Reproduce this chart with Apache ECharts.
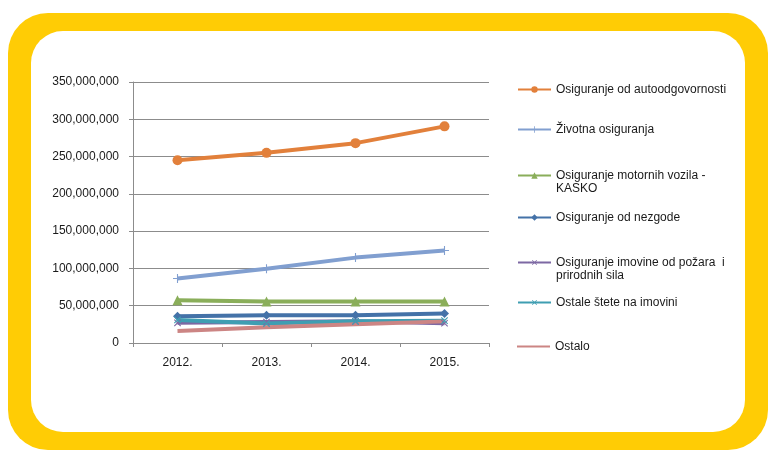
<!DOCTYPE html>
<html>
<head>
<meta charset="utf-8">
<script src="https://cdn.jsdelivr.net/npm/echarts@6/dist/echarts.min.js"></script>
<style>
html,body{margin:0;padding:0;background:#fff;}
#chart{width:783px;height:468px;}
</style>
</head>
<body>
<div id="chart"></div>
<script>
var categories = ['2012.', '2013.', '2014.', '2015.'];
var autoodgovornost = [245000000, 255000000, 268000000, 290500000];
var zivotna = [86500000, 99500000, 114500000, 124000000];
var kasko = [57200000, 55500000, 55500000, 55500000];
var nezgoda = [35800000, 37100000, 37200000, 39400000];
var pozar = [27000000, 28000000, 29000000, 26500000];
var ostaleStete = [31000000, 26000000, 29000000, 30000000];
var ostalo = [16000000, 21000000, 25000000, 29000000];
var yTicks = { min: 0, max: 350000000, interval: 50000000 };

var names = [
  'Osiguranje od autoodgovornosti',
  'Životna osiguranja',
  'Osiguranje motornih vozila -\nKASKO',
  'Osiguranje od nezgode',
  'Osiguranje imovine od požara  i\nprirodnih sila',
  'Ostale štete na imovini',
  'Ostalo'
];
var colors = ['#E2803B', '#819FD0', '#8AAE5A', '#4472A8', '#7D68A3', '#3F9EB2', '#CC8584'];
var dataSets = [autoodgovornost, zivotna, kasko, nezgoda, pozar, ostaleStete, ostalo];
var plusPath = 'path://M4.4,0 L5.6,0 L5.6,4.4 L10,4.4 L10,5.6 L5.6,5.6 L5.6,10 L4.4,10 L4.4,5.6 L0,5.6 L0,4.4 L4.4,4.4 Z';
var symbols = ['circle', plusPath, 'triangle', 'diamond', plusPath, plusPath, 'none'];
var symbolSizes = [10, 9, 10, 9, 9, 9, 0];
var rotations = [0, 0, 0, 0, 45, 45, 0];

var series = dataSets.map(function (d, i) {
  return {
    name: names[i],
    type: 'line',
    data: d,
    symbol: symbols[i],
    symbolSize: symbolSizes[i],
    symbolRotate: rotations[i],
    showSymbol: symbols[i] !== 'none',
    lineStyle: { color: colors[i], width: 4 },
    itemStyle: { color: colors[i] },
    emphasis: { disabled: true },
    animation: false
  };
});

var legendTops = [83, 123, 156, 211, 243, 296, 340];
var legends = names.map(function (n, i) {
  var twoLine = n.indexOf('\n') >= 0;
  var lg = {
    data: [n],
    orient: 'vertical',
    left: 517,
    top: legendTops[i],
    itemWidth: 33,
    itemHeight: 8,
    itemGap: 0,
    padding: 0,
    selectedMode: false,
    lineStyle: { width: 2 },
    textStyle: {
      fontFamily: 'Liberation Sans, Arial', fontSize: 12, color: '#1a1a1a', lineHeight: 13
    }
  };
  if (twoLine) {
    lg.formatter = function (name) { return ' \n' + name; };
  }
  if (symbols[i] === 'none') {
    lg.icon = 'rect';
    lg.itemHeight = 2;
    lg.itemStyle = { color: colors[i] };
  }
  return lg;
});

var chart = echarts.init(document.getElementById('chart'), null, { renderer: 'canvas' });
chart.setOption({
  backgroundColor: '#ffffff',
  animation: false,
  graphic: [
    { type: 'rect', z: -10, shape: { x: 8, y: 13, width: 760, height: 437, r: 40 }, style: { fill: '#FFCC05' } },
    { type: 'rect', z: -9, shape: { x: 31, y: 31, width: 714, height: 401, r: 32 }, style: { fill: '#ffffff' } }
  ],
  grid: { left: 133, right: 294, top: 82, bottom: 125, containLabel: false },
  legend: legends,
  xAxis: {
    type: 'category',
    data: categories,
    boundaryGap: true,
    axisLine: { lineStyle: { color: '#8c8c8c', width: 1 } },
    axisTick: { show: true, length: 4, lineStyle: { color: '#8c8c8c' } },
    axisLabel: { fontFamily: 'Liberation Sans, Arial', fontSize: 12, color: '#1a1a1a', margin: 14 },
    splitLine: { show: false }
  },
  yAxis: {
    type: 'value',
    min: yTicks.min,
    max: yTicks.max,
    interval: yTicks.interval,
    axisLine: { show: true, lineStyle: { color: '#8c8c8c', width: 1 } },
    axisTick: { show: true, length: 4, lineStyle: { color: '#8c8c8c' } },
    axisLabel: {
      fontFamily: 'Liberation Sans, Arial', fontSize: 12, color: '#1a1a1a', margin: 14,
      formatter: function (v) { return v.toLocaleString('en-US'); }
    },
    splitLine: { show: true, lineStyle: { color: '#8c8c8c', width: 1 } }
  },
  series: series
});
</script>
</body>
</html>
